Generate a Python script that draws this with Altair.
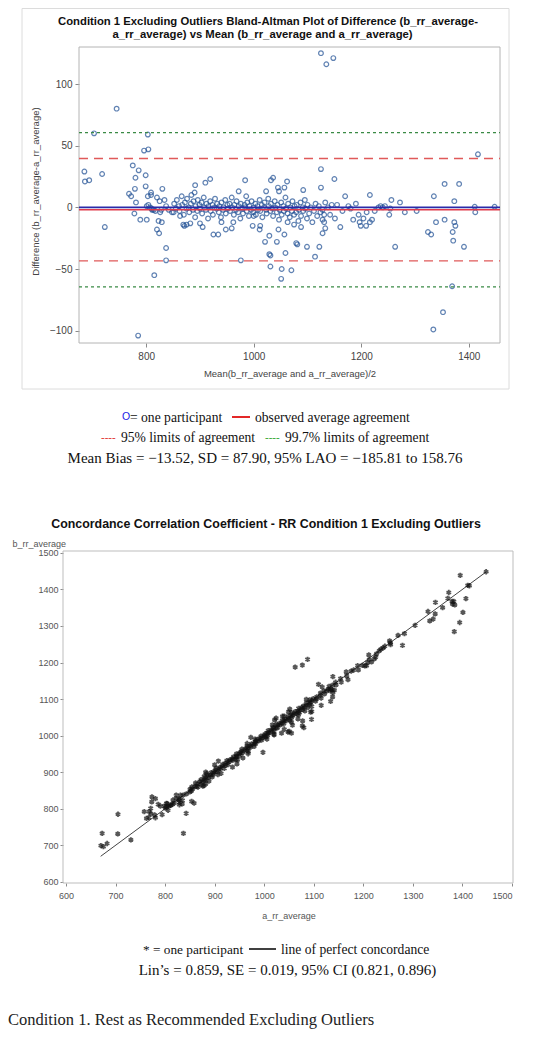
import altair as alt
import pandas as pd

# ---------------- data ----------------
# Bland-Altman points: mean of the two readings (x) and difference b-a (y)
ba_mean = [
    1125, 1135, 1148, 745, 703, 803, 796, 804, 1417, 685,
    686, 694, 718, 775, 786, 799, 780, 799, 779, 768,
    1125, 1150, 1125, 984, 910, 919, 891, 890, 830, 809,
    972, 986, 1023, 1032, 1036, 1045, 1057, 1062, 1047, 1092,
    1170, 1216, 1335, 1355, 1382,
    723, 785, 815, 837, 837, 1334, 1352, 1369, 1370, 1371,
    1391, 1324, 1330, 1339, 1355, 1373, 1375, 1263, 1373, 1411,
    1412, 1448, 1303, 1272, 1281, 1252, 1254, 1256, 1232, 1236,
    1240, 1210, 1204, 1199, 1209, 1216, 1220, 1185, 1197, 1176,
    1161, 1151, 1133, 1145, 1128, 1131, 1128, 1131, 1133, 1128,
    1122, 1114, 1099, 1079, 1081, 1070, 1059, 1051, 1052, 1031,
    1031, 1029, 1021, 1043, 1029, 976, 925, 934, 948, 900,
    882, 869, 871, 801, 789, 823, 820, 824, 778, 851,
    863, 998, 1012, 1000, 962,
    772, 781, 801, 804, 807, 811, 814, 803, 809, 820,
    825, 826, 829, 834, 837, 842, 848, 817, 810, 828,
    852, 855, 857, 861, 862, 866, 867, 870, 872, 875,
    876, 879, 880, 883, 884, 887, 888, 891, 892, 895,
    896, 899, 900, 903, 904, 907, 908, 911, 912, 915,
    916, 919, 920, 923, 924, 927, 928, 931, 932, 935,
    936, 939, 940, 943, 944, 947, 948, 951, 952, 955,
    956, 959, 960, 963, 964, 967, 968, 971, 972, 975,
    976, 979, 980, 983, 984, 987, 988, 991, 992, 995,
    996, 999, 1000, 1003, 1004, 1007, 1008, 1011, 1012, 1015,
    1016, 1019, 1020, 1023, 1024, 1027, 1028, 1031, 1032, 1035,
    1036, 1039, 1040, 1043, 1044, 1047, 1048, 1051, 1052, 1055,
    1056, 1059, 1060, 1063, 1064, 1067, 1068, 1071, 1072, 1075,
    1076, 1079, 1080, 1083, 1084, 1087, 1088, 1091, 1092, 1095,
    1096, 1099, 1100, 1103, 1106, 1109, 1112, 1115, 1118, 1121,
    1124, 1138, 1142, 1155, 1165, 1180, 1190, 1195, 1225, 1244,
    1046, 1057, 1063, 1075, 1088, 1011, 959, 905, 875, 940,
]
ba_diff = [
    125, 116, 121, 80, 60, 59, 46, 47, 43, 29,
    21, 22, 27, 34, 30, 26, 24, 17, 15, 11,
    31, 23, 16, 22, 20, 23, 18, 12, 15, 12,
    13, 9, 13, 22, 24, 16, 16, 21, 13, 14,
    9, 10, 9, 19, 19,
    -16, -104, -55, -33, -43, -99, -85, -64, -20, -27,
    -32, -20, -22, -12, -10, -12, -15, -32, 5, 0.5,
    -4, 0.5, -3, 4, -4, -6, -1, 6, 0, 1,
    0, -4, -9, -15, -15, -12, -10, -10, -12, 1,
    -16, -9, 4, 2, -2, -6, -10, -12, -17, -21,
    -32, -40, -32, -29, -30, -51, -37, -58, -50, -48,
    -39, -38, -28, -28, -23, -43, -22, -22, -18, -13,
    -13, -14, -15, -10, -10, -11, -18, -21, -5, -4,
    -7, -15, -15, -7, -12,
    9, 4, 1, 2, 0, -2, -2, 9, 10, 8,
    5, -4, -12, 6, 1, -2, -4, -3, -1, -2,
    3, -1, 6, 1, -3, 9, 2, -6, 4, -1,
    7, 0, -4, 3, 10, -2, 5, -8, 1, -3,
    6, 2, -1, 4, -5, 8, 0, -2, 3, -9,
    1, 5, -3, 2, -6, 0, 7, -1, 3, -4,
    1, -8, 4, -2, 0, 6, -5, 2, -1, 3,
    -3, 8, 0, -6, 2, -2, 5, -4, 1, -9,
    3, -1, -5, 2, 0, -3, 4, -7, 1, -2,
    5, -4, 0, 3, -6, 1, -2, 6, -3, 2,
    -8, 0, 4, -2, -5, 7, 1, -3, 3, -1,
    -7, 5, 0, -4, 2, -10, -2, 4, -6, 1,
    -3, 8, -1, -5, 3, -8, 0, -3, 5, -6,
    1, -4, 2, -11, -2, 4, -7, 0, -3, 6,
    -1, -9, 2, -5, 0, -12, -3, 3, -7, 1,
    -4, 0, -6, 2, -3, -1, 3, -6, -3, 1,
    -18, -22, -12, -14, -16, -18, -17, -16, -14, -12,
]

zero_line = [0]
bias_line = [-1.9]
loa95 = [39.6, -43.4]
loa997 = [60.6, -64.5]
ccc_line = [670, 1448]

ba_x_ticks = [800, 1000, 1200, 1400]
ba_y_ticks = [-100, -50, 0, 50, 100]
cc_ticks = [600, 700, 800, 900, 1000, 1100, 1200, 1300, 1400, 1500]

df = pd.DataFrame({"mean": ba_mean, "diff": ba_diff})
df["a"] = df["mean"] - df["diff"] / 2
df["b"] = df["mean"] + df["diff"] / 2

# ---------------- scales (pixel ranges inside one canvas) ----------------
BA_X = alt.Scale(domain=[675, 1458], range=[71, 492], nice=False, zero=False)
BA_Y = alt.Scale(domain=[-110, 130], range=[335, 39], nice=False, zero=False)
CC_X = alt.Scale(domain=[594, 1502], range=[55, 505], nice=False, zero=False)
CC_Y = alt.Scale(domain=[597, 1505], range=[875, 543], nice=False, zero=False)

W, H = 534, 1022
blank = alt.Data(values=[{}])
SANS = "Liberation Sans"
SERIF = "Liberation Serif"


def txt(s, x, y, size, font=SERIF, color="#111111", weight="normal", align="left"):
    return alt.Chart(blank).mark_text(
        text=s, x=x, y=y, fontSize=size, font=font, color=color,
        fontWeight=weight, align=align, baseline="middle")


def box(x1, x2, y1, y2, color):
    return alt.Chart(blank).mark_rect(
        fillOpacity=0, stroke=color, strokeWidth=1).encode(
        x=alt.value(x1), x2=alt.value(x2), y=alt.value(y1), y2=alt.value(y2))


def hrule(x1, x2, y, color, width=1.6):
    return alt.Chart(blank).mark_rule(color=color, strokeWidth=width).encode(
        x=alt.value(x1), x2=alt.value(x2), y=alt.value(y))


# ---------------- Bland-Altman panel ----------------
outer_frame = box(14, 501, 0.5, 381, "#dcdcdc")
ba_frame = box(71, 492, 39, 335, "#b4b4b4")

ba_points = alt.Chart(df).mark_point(
    shape="circle", filled=False, size=22, strokeWidth=1.2, color="#1f4f94", clip=False
).encode(
    x=alt.X("mean:Q", scale=BA_X, axis=alt.Axis(
        orient="bottom", offset=-(H - 335), values=ba_x_ticks, format="d",
        domain=False, grid=False, tickSize=4, tickColor="#8a8a8a",
        labelFont=SANS, labelFontSize=10, labelColor="#444444", labelPadding=4,
        title="Mean(b_rr_average and a_rr_average)/2", titleFont=SANS,
        titleFontSize=9.5, titleFontWeight="normal", titleColor="#444444",
        titleX=281.5, titleY=30, titleBaseline="middle", titleAlign="center")),
    y=alt.Y("diff:Q", scale=BA_Y, axis=alt.Axis(
        orient="left", offset=-71, values=ba_y_ticks, format="d",
        domain=False, grid=False, tickSize=4, tickColor="#8a8a8a",
        labelFont=SANS, labelFontSize=10, labelColor="#444444", labelPadding=3,
        title="Difference (b_rr_average-a_rr_average)", titleFont=SANS,
        titleFontSize=9.5, titleFontWeight="normal", titleColor="#444444",
        titleX=-44, titleY=183, titleAngle=270, titleBaseline="middle",
        titleAlign="center")),
)


def ba_hline(values, color, dash, width):
    m = alt.Chart(pd.DataFrame({"v": values}))
    kw = dict(color=color, strokeWidth=width)
    if dash:
        kw["strokeDash"] = dash
    return m.mark_rule(**kw).encode(
        y=alt.Y("v:Q", scale=BA_Y, axis=None),
        x=alt.value(71), x2=alt.value(492))


l997 = ba_hline(loa997, "#3a8a45", [3, 3], 1.2)
l95 = ba_hline(loa95, "#e05a5a", [9, 6], 1.3)
lzero = ba_hline(zero_line, "#2a2aa8", None, 1.6)
lbias = ba_hline(bias_line, "#e03a4a", None, 1.4)

ba_title1 = txt("Condition 1 Excluding Outliers Bland-Altman Plot of Difference (b_rr_average-",
                260, 14, 11.3, SANS, "#111111", "bold", "center")
ba_title2 = txt("a_rr_average) vs Mean (b_rr_average and a_rr_average)",
                254.5, 27, 11.3, SANS, "#111111", "bold", "center")

# legend below Bland-Altman
leg_o = txt("O", 114, 409, 10.5, SANS, "#1a1ae6", "normal", "left")
leg_1a = txt("= one participant", 122, 410, 13.6)
leg_1r = hrule(224, 242, 409, "#e01010", 1.8)
leg_1b = txt("observed average agreement", 247, 410, 13.6)
leg_2r = txt("----", 93, 430, 11, SERIF, "#e02020")
leg_2a = txt("95% limits of agreement", 113, 430, 13.6)
leg_2g = txt("----", 257, 430, 11, SERIF, "#20a020")
leg_2b = txt("99.7% limits of agreement", 277, 430, 13.6)
leg_3 = txt("Mean Bias = \u221213.52, SD = 87.90, 95% LAO = \u2212185.81 to 158.76",
            257, 450, 15, align="center")

# ---------------- Concordance panel ----------------
cc_title = txt("Concordance Correlation Coefficient - RR Condition 1 Excluding Outliers",
               258, 516, 12.4, SANS, "#111111", "bold", "center")
cc_frame = box(55, 505, 543, 875, "#bdbdbd")

ASTERISK = "M0,-1L0,1M-0.87,-0.5L0.87,0.5M-0.87,0.5L0.87,-0.5"
cc_points = alt.Chart(df).mark_point(
    shape=ASTERISK, filled=False, size=28, strokeWidth=1.8, color="#111111", clip=False
).encode(
    x=alt.X("a:Q", scale=CC_X, axis=alt.Axis(
        orient="bottom", offset=-(H - 875), values=cc_ticks, format="d",
        domain=False, grid=False, tickSize=3, tickColor="#8a8a8a",
        labelFont=SANS, labelFontSize=9, labelColor="#555555", labelPadding=5,
        title="a_rr_average", titleFont=SANS, titleFontSize=9,
        titleFontWeight="normal", titleColor="#555555",
        titleX=280.5, titleY=32, titleBaseline="middle", titleAlign="center")),
    y=alt.Y("b:Q", scale=CC_Y, axis=alt.Axis(
        orient="left", offset=-55, values=cc_ticks, format="d",
        domain=False, grid=False, tickSize=3, tickColor="#8a8a8a",
        labelFont=SANS, labelFontSize=9, labelColor="#555555", labelPadding=2,
        title="b_rr_average", titleFont=SANS, titleFontSize=9,
        titleFontWeight="normal", titleColor="#555555",
        titleX=-51, titleY=535, titleAngle=0, titleBaseline="middle",
        titleAlign="left")),
)

cc_line = alt.Chart(pd.DataFrame({"v": ccc_line})).mark_line(
    color="#444444", strokeWidth=1).encode(
    x=alt.X("v:Q", scale=CC_X, axis=None),
    y=alt.Y("v:Q", scale=CC_Y, axis=None))

cc_leg1a = txt("* = one participant", 135, 942, 13.3)
cc_leg1r = hrule(241, 268, 941, "#111111", 1.6)
cc_leg1b = txt("line of perfect concordance", 273, 942, 13.6)
cc_leg2 = txt("Lin\u2019s = 0.859, SE = 0.019, 95% CI (0.821, 0.896)",
              279.5, 962, 15, align="center")

caption = txt("Condition 1. Rest as Recommended Excluding Outliers",
              0, 1012, 16.5, SERIF, "#222222")

chart = alt.layer(
    outer_frame, ba_frame, ba_points, l997, l95, lzero, lbias,
    ba_title1, ba_title2,
    leg_o, leg_1a, leg_1r, leg_1b, leg_2r, leg_2a, leg_2g, leg_2b, leg_3,
    cc_title, cc_frame, cc_line, cc_points,
    cc_leg1a, cc_leg1r, cc_leg1b, cc_leg2, caption,
).resolve_scale(
    x="independent", y="independent"
).properties(
    width=W, height=H, padding=0, autosize=alt.AutoSizeParams(type="none"),
    background="white",
).configure_view(strokeWidth=0)

chart.save("out.html", embed_options={"renderer": "svg", "actions": False})
